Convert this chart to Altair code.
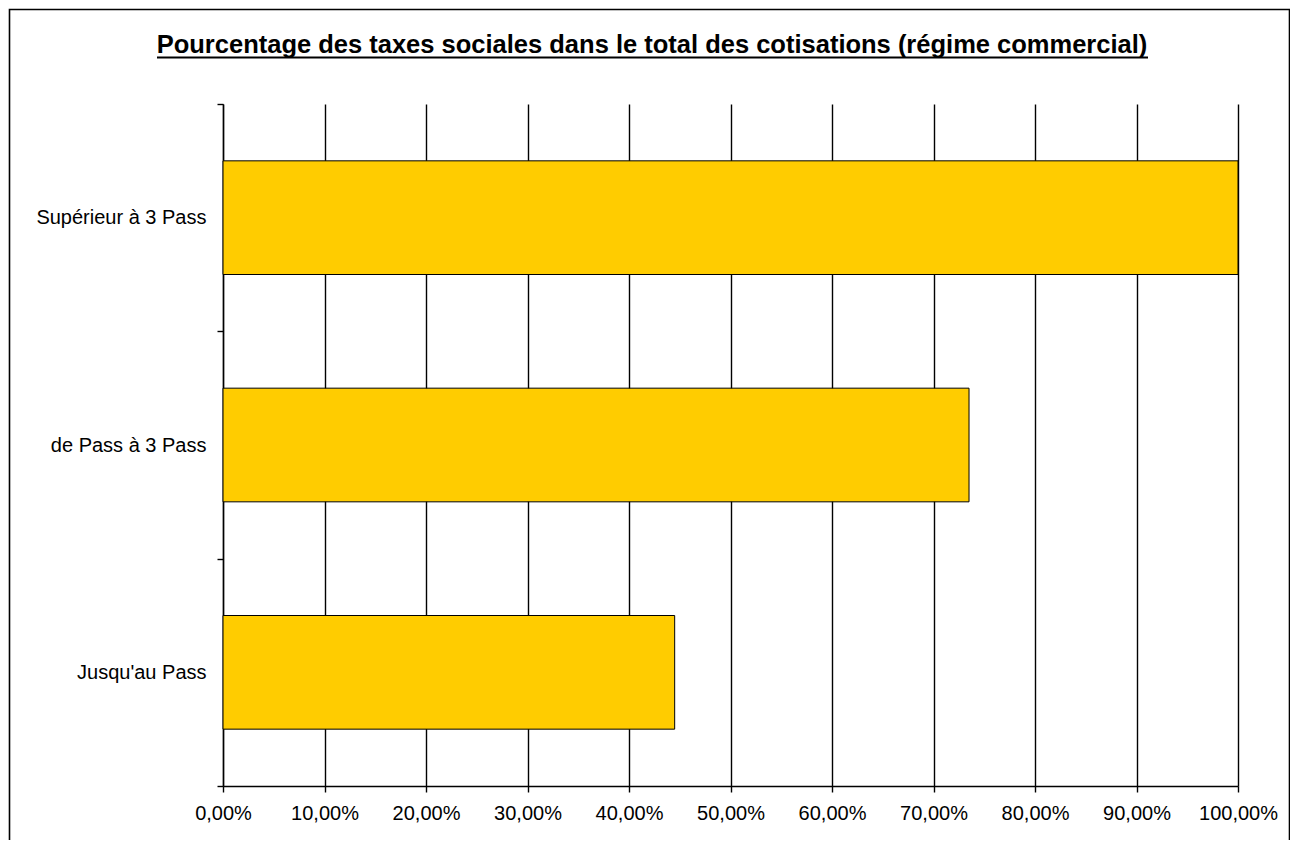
import altair as alt
import pandas as pd

categories = ["Supérieur à 3 Pass", "de Pass à 3 Pass", "Jusqu'au Pass"]
values = [100.0, 73.5, 44.5]
x_ticks = [0, 10, 20, 30, 40, 50, 60, 70, 80, 90, 100]
title_text = "Pourcentage des taxes sociales dans le total des cotisations (régime commercial)"

df = pd.DataFrame({"cat": categories, "val": values})
FONT = "Liberation Sans"

bars = alt.Chart(df).mark_bar(color="#FFCC00", stroke="black", strokeWidth=1,
                              height=alt.RelativeBandSize(0.5)).encode(
    x=alt.X("val:Q",
            scale=alt.Scale(domain=[0, 100], nice=False),
            axis=alt.Axis(values=x_ticks, title=None,
                          labelExpr="replace(format(datum.value, '.2f'), '.', ',') + '%'",
                          grid=True, gridColor="black", gridWidth=1.4, gridOpacity=1,
                          domainColor="black", domainWidth=1.4,
                          tickColor="black", tickSize=6, tickWidth=1.4,
                          labelFont=FONT, labelFontSize=20, labelColor="black",
                          labelPadding=11, labelFlush=False)),
    y=alt.Y("cat:N", sort=categories,
            scale=alt.Scale(paddingInner=0, paddingOuter=0),
            axis=alt.Axis(title=None, grid=False, tickBand="extent",
                          domainColor="black", domainWidth=1.4,
                          tickColor="black", tickSize=6, tickWidth=1.4,
                          labelFont=FONT, labelFontSize=20, labelColor="black",
                          labelPadding=11)),
)

one = pd.DataFrame({"t": [title_text]})

title = alt.Chart(one).mark_text(font=FONT, fontSize=25.5, fontWeight="bold",
                                 color="black", align="center", baseline="alphabetic").encode(
    text="t:N", x=alt.value(652 - 223), y=alt.value(53 - 104))

underline = alt.Chart(one).mark_rule(color="black", strokeWidth=1.8).encode(
    x=alt.value(157 - 223), x2=alt.value(1148 - 223), y=alt.value(57.5 - 104))

border = alt.Chart(one).mark_rect(fill=None, fillOpacity=0, stroke="black", strokeWidth=1.6).encode(
    x=alt.value(9.5 - 223), x2=alt.value(1289.5 - 223), y=alt.value(9.5 - 104), y2=alt.value(880 - 104))

chart = alt.layer(bars, title, underline, border).properties(
    width=1015, height=682,
    autosize=alt.AutoSizeParams(type="none"),
    padding={"left": 215, "top": 96, "right": 52, "bottom": 54},
    background="white",
).configure_view(stroke=None)

chart.save("out.html", embed_options={"renderer": "svg", "actions": False})
